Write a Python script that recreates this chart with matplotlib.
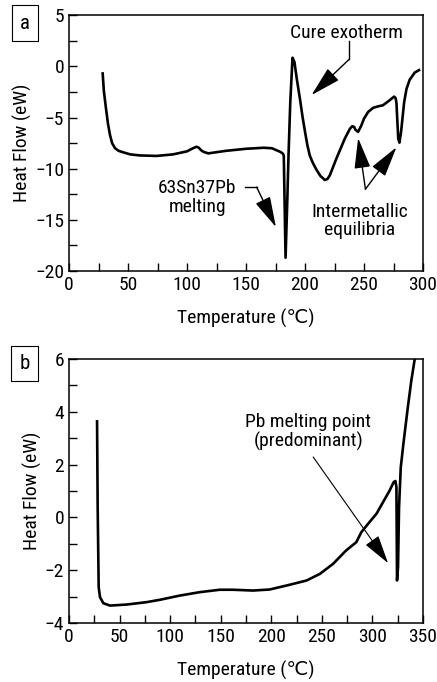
import matplotlib
matplotlib.use("Agg")
import matplotlib.pyplot as plt
from matplotlib.ticker import MultipleLocator

plt.rcParams['font.family'] = ['Roboto Condensed', 'Archivo Narrow', 'PT Sans Narrow',
                               'Liberation Sans Narrow', 'DejaVu Sans']

# panel a: 63Sn37Pb paste DSC trace
temp_a = [28.5, 29.5, 31.3, 33, 34.7, 36.5, 39, 42, 46, 52, 60, 74, 88, 100, 105, 108,
          110, 112, 114, 118, 133, 150, 165, 172, 176, 179, 181, 182, 183.5, 185, 186,
          187.5, 189.4, 191, 193, 195.6, 198, 200, 202, 204, 206.5, 209.7, 213, 216.8,
          219, 221, 226.6, 233.7, 238, 240, 241.5, 242.8, 245, 247.8, 250, 253.5, 257.7,
          262, 266, 271.8, 275.5, 276.8, 277.5, 279, 280, 281.4, 284, 286, 288.7, 293,
          296.6]
flow_a = [-0.69, -2.4, -4.1, -5.6, -6.7, -7.5, -8.0, -8.25, -8.4, -8.6, -8.7, -8.75,
          -8.6, -8.3, -8.0, -7.85, -7.95, -8.2, -8.35, -8.5, -8.25, -8.05, -7.95, -8.0,
          -8.2, -8.35, -8.5, -8.7, -18.7, -13.0, -8.7, -3.5, 0.85, 0.45, -1.2, -3.1,
          -5.0, -6.4, -7.7, -8.7, -9.4, -10.1, -10.7, -11.1, -11.0, -10.65, -9.0, -7.06,
          -6.1, -5.85, -5.9, -6.2, -6.4, -5.75, -5.1, -4.45, -4.05, -3.9, -3.8, -3.3,
          -2.95, -3.1, -3.6, -7.06, -7.45, -6.4, -3.5, -2.2, -1.3, -0.6, -0.36]

# panel b: Pb-rich trace
temp_b = [27.7, 28.3, 29.3, 30.6, 33.9, 40.5, 57, 76.7, 89.9, 109.6, 129.4, 149, 162,
          182, 198.5, 218.3, 234.8, 248, 261, 274, 284, 289, 297, 304, 310.5, 317, 321,
          322.7, 323.7, 324.3, 325.3, 326.3, 328, 331, 335, 338.5, 341.8]
flow_b = [3.64, 0.39, -2.64, -3.02, -3.25, -3.34, -3.30, -3.21, -3.12, -2.96, -2.83,
          -2.74, -2.74, -2.77, -2.73, -2.55, -2.39, -2.14, -1.76, -1.25, -0.94, -0.56,
          -0.18, 0.14, 0.58, 1.02, 1.34, 1.38, 1.15, -2.39, -1.88, 0.39, 1.9, 2.92, 4.18,
          5.2, 6.0]

fig = plt.figure(figsize=(4.37, 6.82), dpi=100)
ax1 = fig.add_axes([0.158, 0.6026, 0.81, 0.375])
ax2 = fig.add_axes([0.158, 0.0865, 0.81, 0.387])

fs = 14
afs = 14
arrow_big = dict(arrowstyle='-|>,head_length=1.9,head_width=0.5', color='black',
                 lw=1.0, shrinkA=0, shrinkB=0)

for ax in (ax1, ax2):
    ax.tick_params(which='both', direction='in', top=False, right=False,
                   labelsize=fs, width=1)
    ax.tick_params(which='major', length=6)
    ax.tick_params(which='minor', length=6)
    for s in ax.spines.values():
        s.set_linewidth(1.1)
    ax.set_xlabel('Temperature (℃)', fontsize=fs, labelpad=11)
    ax.set_ylabel('Heat Flow (eW)', fontsize=fs, labelpad=2)

# ---- a ----
ax1.plot(temp_a, flow_a, '-', color='black', lw=1.9)
ax1.set_xlim(0, 300)
ax1.set_ylim(-20, 5)
ax1.xaxis.set_major_locator(MultipleLocator(50))
ax1.xaxis.set_minor_locator(MultipleLocator(25))
ax1.yaxis.set_major_locator(MultipleLocator(5))
ax1.yaxis.set_minor_locator(MultipleLocator(2.5))

ax1.text(235, 3.3, 'Cure exotherm', ha='center', va='center', fontsize=afs)
ax1.plot([237.4, 237.4], [2.5, 0.69], color='black', lw=1.0)
ax1.annotate('', xy=(205.5, -2.8), xytext=(237.4, 0.69), arrowprops=arrow_big)

ax1.text(108.7, -12.8, '63Sn37Pb\nmelting', ha='center', va='center',
         fontsize=afs, linespacing=1.05)
ax1.plot([149, 159], [-11.8, -11.8], color='black', lw=1.0)
ax1.annotate('', xy=(175.3, -15.7), xytext=(159, -11.8), arrowprops=arrow_big)

ax1.text(246.4, -15.1, 'Intermetallic\nequilibria', ha='center', va='center',
         fontsize=afs, linespacing=1.05)
ax1.annotate('', xy=(245, -7.0), xytext=(251.2, -12.0), arrowprops=arrow_big)
ax1.annotate('', xy=(277.5, -7.9), xytext=(251.2, -12.0), arrowprops=arrow_big)

# ---- b ----
ax2.plot(temp_b, flow_b, '-', color='black', lw=1.9)
ax2.set_xlim(0, 350)
ax2.set_ylim(-4, 6)
ax2.xaxis.set_major_locator(MultipleLocator(50))
ax2.xaxis.set_minor_locator(MultipleLocator(25))
ax2.yaxis.set_major_locator(MultipleLocator(2))
ax2.yaxis.set_minor_locator(MultipleLocator(1))

ax2.text(236.4, 3.24, 'Pb melting point\n(predominant)', ha='center', va='center',
         fontsize=afs, linespacing=1.05)
ax2.annotate('', xy=(315.4, -1.73), xytext=(241.4, 2.29),
             arrowprops=dict(arrowstyle='-|>,head_length=1.8,head_width=0.5',
                             color='black', lw=0.8, shrinkA=0, shrinkB=0))

# panel letters in boxes
for lbl, y in (('a', 0.966), ('b', 0.467)):
    fig.text(0.057, y, lbl, ha='center', va='center', fontsize=fs + 1,
             bbox=dict(boxstyle='square,pad=0.4', fc='white', ec='black', lw=0.8))

fig.savefig('out.png', dpi=100)
